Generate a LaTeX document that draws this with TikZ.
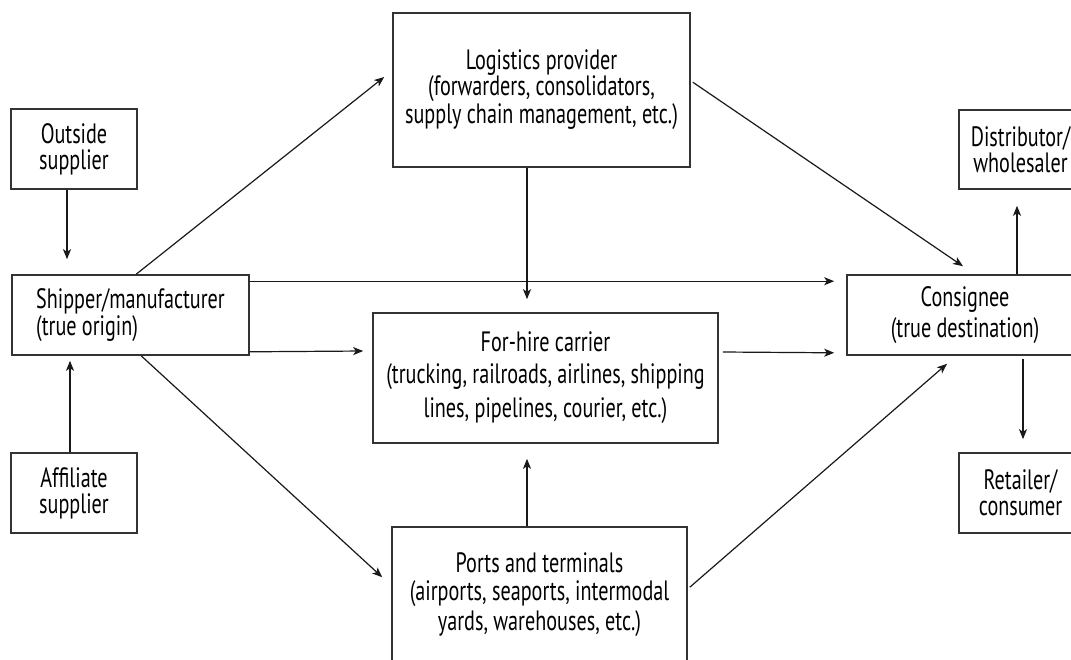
\documentclass[tikz,border=0pt]{standalone}
\usepackage{fontspec}
\setmainfont{PT Sans}[FakeStretch=0.72]
\usetikzlibrary{arrows.meta}

\begin{document}
\begin{tikzpicture}[x=0.5pt,y=-0.5pt,
    box/.style={draw=black!80,line width=0.8pt,inner sep=0pt,align=center,
      text=black,font=\fontsize{14}{13}\selectfont},
    arr/.style={-{Stealth[length=5pt,width=4pt,inset=1.3pt]},line width=0.6pt,
      draw=black!90}]

    \path[use as bounding box,clip] (0,0) rectangle (1071,659);

    % the boxes

    \node[box,minimum width=148.5pt,minimum height=77pt] (logistics) at (541.5,90)
    {Logistics provider\\(forwarders, consolidators,\\supply chain management, etc.)};
    \node[box,minimum width=63pt,minimum height=40pt] (outside) at (74,149)
    {Outside\\supplier};
    \node[box,align=left,minimum width=118.5pt,minimum height=40pt] (shipper) at (130.5,315)
    {Shipper/manufacturer\\[0.5pt](true origin)};
    \node[box,minimum width=63pt,minimum height=40pt] (affiliate) at (74,493)
    {Affiliate\\supplier};
    \node[box,minimum width=172.5pt,minimum height=65pt] (carrier) at (545.5,378)
    {For-hire carrier\\[3pt](trucking, railroads, airlines, shipping\\[3pt]lines, pipelines, courier, etc.)};
    \node[box,minimum width=147.5pt,minimum height=68pt] (ports) at (539.5,595)
    {Ports and terminals\\[1pt](airports, seaports, intermodal\\[1pt]yards, warehouses, etc.)};
    \node[box,minimum width=118pt,minimum height=40pt] (consignee) at (965,315)
    {Consignee\\[2.5pt](true destination)};
    \node[box,minimum width=61.5pt,minimum height=39.5pt] (distributor) at (1020.5,149.5)
    {Distributor/\\wholesaler};
    \node[box,minimum width=61.5pt,minimum height=40pt] (retailer) at (1020.5,493)
    {Retailer/\\consumer};

    % the arrows

    \draw[arr,shorten >=7.5pt] ([xshift=-3.5pt]outside.south) --
    ([xshift=-3.5pt]outside.south |- shipper.north);
    \draw[arr,shorten >=2.5pt] ([xshift=-2pt]affiliate.north) --
    ([xshift=-2pt]affiliate.north |- shipper.south);
    \draw[arr] ([xshift=62.5pt]shipper.north west) --
    ([xshift=-4pt,yshift=6.5pt]logistics.west);
    \draw[arr] ([yshift=-3.5pt]shipper.north east) --
    ([xshift=-6pt,yshift=-3.5pt]consignee.north west);
    \draw[arr] ([yshift=2pt]shipper.south east) --
    ([xshift=-4.5pt,yshift=13.5pt]carrier.west);
    \draw[arr] ([xshift=65pt]shipper.south west) --
    ([xshift=-4.5pt,yshift=-25.5pt]ports.north west);
    \draw[arr,shorten >=6.5pt] ([xshift=-7.25pt]logistics.south) --
    ([xshift=-7.25pt]logistics.south |- carrier.north);
    \draw[arr,shorten >=7.5pt] ([xshift=-6.25pt]ports.north) --
    ([xshift=-6.25pt]ports.north |- carrier.south);
    \draw[arr] ([xshift=2pt,yshift=13pt]carrier.east) --
    ([xshift=-6pt,yshift=1.5pt]consignee.south west);
    \draw[arr] ([xshift=1pt,yshift=-35pt]logistics.north east) --
    ([xshift=-1pt,yshift=4pt]consignee.north);
    \draw[arr] ([xshift=1pt,yshift=-30.5pt]ports.north east) --
    ([xshift=-9pt,yshift=-4pt]consignee.south);
    \draw[arr,shorten >=8pt] ([xshift=26pt]consignee.north) --
    ([xshift=26pt]consignee.north |- distributor.south);
    \draw[arr,shorten >=6.5pt] ([xshift=29pt,yshift=-1.5pt]consignee.south) --
    ([xshift=29pt]consignee.south |- retailer.north);
\end{tikzpicture}
\end{document}
